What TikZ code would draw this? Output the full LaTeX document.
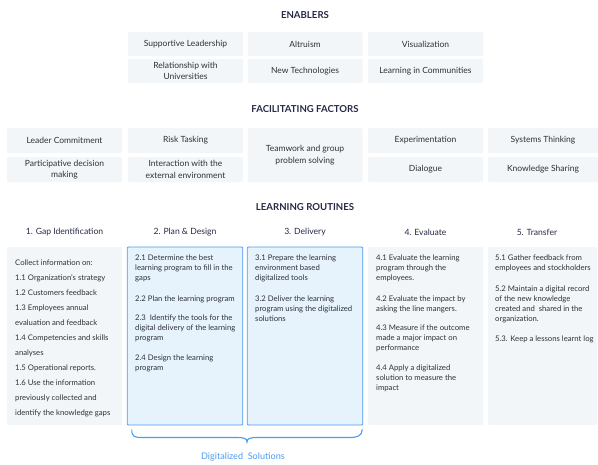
\documentclass[tikz,border=0pt]{standalone}
\usepackage{fontspec}
\setmainfont{Lato}
\definecolor{navy}{HTML}{262A45}
\definecolor{bodytxt}{HTML}{2E3038}
\definecolor{boxfill}{HTML}{F3F6F8}
\definecolor{bluefill}{HTML}{E6F3FD}
\definecolor{blueline}{HTML}{4A9BF2}
\begin{document}
\begin{tikzpicture}[x=1pt,y=-1pt,
  title/.style={font=\bfseries\fontsize{9.6}{11}\selectfont, text=navy},
  colhead/.style={font=\fontsize{8.6}{10}\selectfont, text=navy},
  cell/.style={fill=boxfill, rounded corners=1pt, align=center, inner sep=1pt,
    font=\fontsize{8.5}{11.5}\selectfont, text=bodytxt, minimum width=115, minimum height=24},
  bigcell/.style={fill=boxfill, rounded corners=1pt, minimum width=115, minimum height=178, inner sep=0pt},
  bluecell/.style={bigcell, fill=bluefill, draw=blueline, line width=0.9pt},
  body/.style={anchor=north west, align=left, inner sep=0pt, text=bodytxt,
    font=\fontsize{7.7}{10}\selectfont}
]
\useasboundingbox (0,0) rectangle (598,464);
% ENABLERS
\node[title] (ten) at (305,15) {ENABLERS};
\node[cell] (e1) at (185.5,44) {Supportive Leadership};
\node[cell] (e2) at (305,44) {Altruism};
\node[cell] (e3) at (425.5,44) {Visualization};
\node[cell] (e4) at (185.5,71) {Relationship with\\Universities};
\node[cell] (e5) at (305,71) {New Technologies};
\node[cell] (e6) at (425.5,71) {Learning in Communities};
% FACILITATING FACTORS
\node[title] (tff) at (305,109) {FACILITATING FACTORS};
\node[cell, minimum height=25] (f1) at (64.5,140.5) {Leader Commitment};
\node[cell, minimum height=25] (f2) at (185.5,140.5) {Risk Tasking};
\node[cell, minimum height=54] (f3) at (305,155) {Teamwork and group\\problem solving};
\node[cell, minimum height=25] (f4) at (425.5,140.5) {Experimentation};
\node[cell, minimum height=25, minimum width=110] (f5) at (543,140.5) {Systems Thinking};
\node[cell, minimum height=25] (f6) at (64.5,169.5) {Participative decision\\making};
\node[cell, minimum height=25] (f7) at (185.5,169.5) {Interaction with the\\external environment};
\node[cell, minimum height=25] (f8) at (425.5,169.5) {Dialogue};
\node[cell, minimum height=25, minimum width=110] (f9) at (543,169.5) {Knowledge Sharing};
% LEARNING ROUTINES
\node[title] (tlr) at (305,207) {LEARNING ROUTINES};
\node[colhead] (h1) at (64.5,232) {1. Gap Identification};
\node[colhead] (h2) at (185,232) {2. Plan \& Design};
\node[colhead] (h3) at (305,232) {3. Delivery};
\node[colhead] (h4) at (425.5,232) {4. Evaluate};
\node[colhead] (h5) at (537,232) {5. Transfer};
\node[bigcell] (b1) at (64.5,336) {};
\node[bluecell, minimum width=115.5] (b2) at (185,336) {};
\node[bluecell, minimum width=115.5] (b3) at (305,336) {};
\node[bigcell] (b4) at (425.5,336) {};
\node[bigcell, minimum width=109] (b5) at (542.5,336) {};
\node[body, font=\fontsize{7.7}{15}\selectfont] (t1) at (15,260) {Collect information on:\\
1.1 Organization's strategy\\
1.2 Customers feedback\\
1.3 Employees annual\\
evaluation and feedback\\
1.4 Competencies and skills\\
analyses\\
1.5 Operational reports.\\
1.6 Use the information\\
previously collected and\\
identify the knowledge gaps};
\node[body] (t2) at (135,255) {2.1 Determine the best\\
learning program to fill in the\\
gaps\\[10.5pt]
2.2 Plan the learning program\\[9pt]
2.3\ \ Identify the tools for the\\
digital delivery of the learning\\
program\\[10pt]
2.4 Design the learning\\
program};
\node[body] (t3) at (255,255) {3.1 Prepare the learning\\
environment based\\
digitalized tools\\[10.5pt]
3.2 Deliver the learning\\
program using the digitalized\\
solutions};
\node[body] (t4) at (376,255) {4.1 Evaluate the learning\\
program through the\\
employees.\\[10.5pt]
4.2 Evaluate the impact by\\
asking the line mangers.\\[9pt]
4.3 Measure if the outcome\\
made a major impact on\\
performance\\[10pt]
4.4 Apply a digitalized\\
solution to measure the\\
impact};
\node[body] (t5) at (495,255) {5.1 Gather feedback from\\
employees and stockholders\\[11pt]
5.2 Maintain a digital record\\
of the new knowledge\\
created and\ \ shared in the\\
organization.\\[10pt]
5.3. Keep a lessons learnt log};
% brace
\coordinate (bl) at (b2.south west);
\coordinate (br) at (b3.south east);
\coordinate (btip) at (247,442);
\draw[blueline, line width=1.1pt, line cap=round]
  ([xshift=5]bl |- 0,430) .. controls ([xshift=5]bl |- 0,437) and ([xshift=8]bl |- 0,437.5) .. ([xshift=16]bl |- 0,437.5)
  -- ([xshift=-10]btip |- 0,437.5) .. controls ([xshift=-3]btip |- 0,437.5) and (btip |- 0,438.5) .. (btip)
  .. controls (btip |- 0,438.5) and ([xshift=3]btip |- 0,437.5) .. ([xshift=10]btip |- 0,437.5)
  -- ([xshift=-14]br |- 0,437.5) .. controls ([xshift=-6]br |- 0,437.5) and ([xshift=-1]br |- 0,436) .. ([xshift=-1]br |- 0,429.5);
\node[text=blueline, font=\fontsize{9.1}{10}\selectfont] (ds) at (243,457) {Digitalized\ \ Solutions};
\end{tikzpicture}
\end{document}
